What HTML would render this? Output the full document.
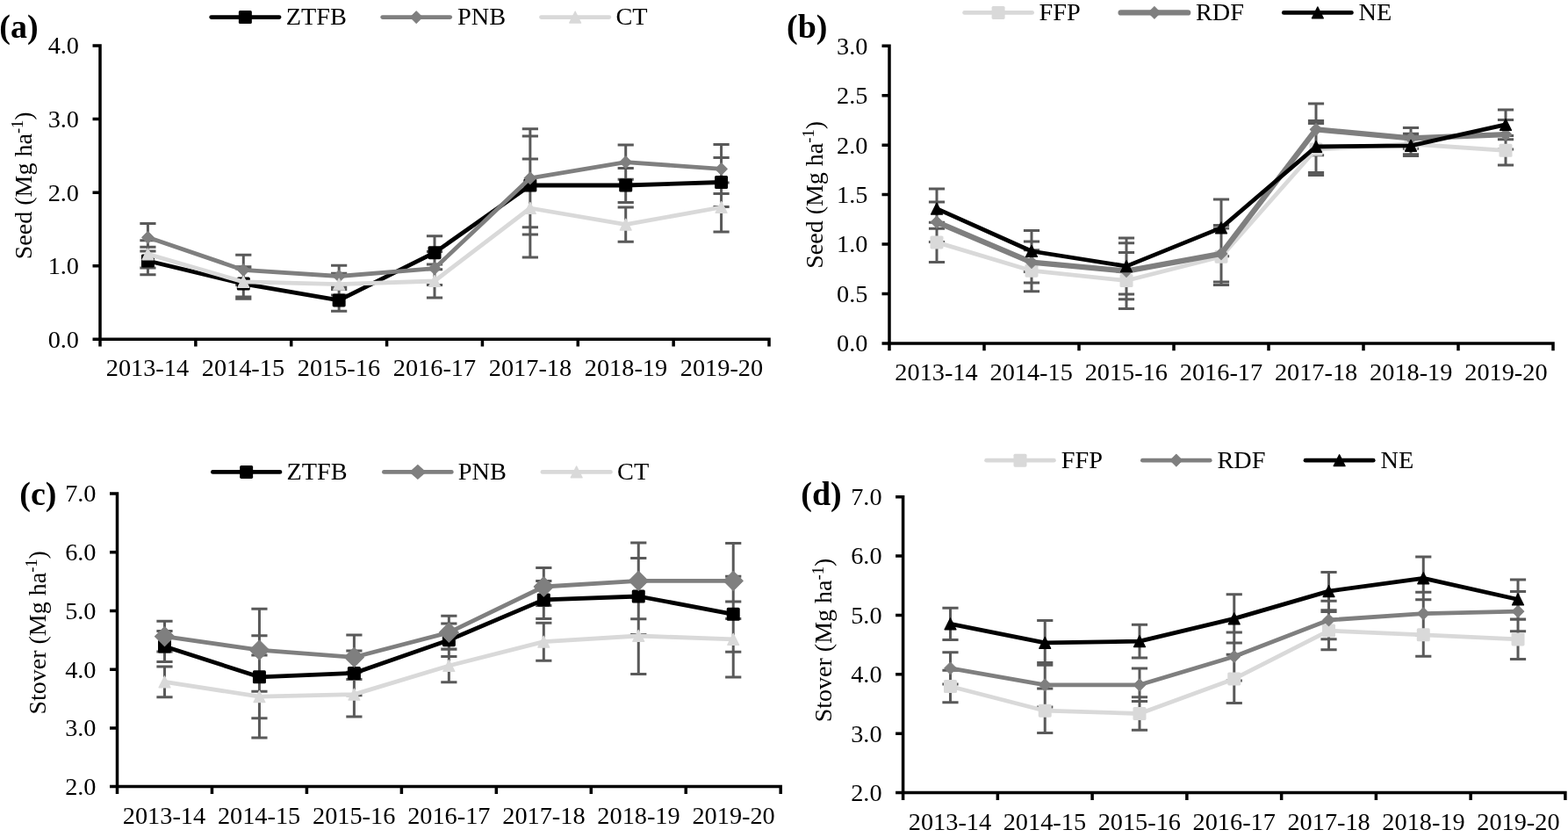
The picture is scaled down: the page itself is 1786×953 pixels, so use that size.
<!DOCTYPE html>
<html lang="en"><head><meta charset="utf-8"><title>Seed and stover yield</title>
<style>
html,body{margin:0;padding:0;background:#fff;overflow:hidden}
svg{display:block}
svg text{font-family:"Liberation Serif", "Times New Roman", serif;font-size:28.3px;fill:#000}
</style></head>
<body>
<svg width="1786" height="953" viewBox="0 0 1786 953">
<rect width="1786" height="953" fill="#fff"/>
<g>
<path d="M168.43 281.3V312.7M159.33 281.3H177.53M159.33 312.7H177.53M277.29 305.9V340.3M268.19 305.9H286.39M268.19 340.3H286.39M386.14 329.6V354.2M377.04 329.6H395.24M377.04 354.2H395.24M495 268.7V306.7M485.9 268.7H504.1M485.9 306.7H504.1M603.86 155V267M594.76 155H612.96M594.76 267H612.96M712.71 191.4V230.6M703.61 191.4H721.81M703.61 230.6H721.81M821.57 179.5V235.5M812.47 179.5H830.67M812.47 235.5H830.67M168.43 254.6V286M159.33 254.6H177.53M159.33 286H177.53M277.29 290.2V324.6M268.19 290.2H286.39M268.19 324.6H286.39M386.14 302.2V326.8M377.04 302.2H395.24M377.04 326.8H395.24M495 286.6V324.6M485.9 286.6H504.1M485.9 324.6H504.1M603.86 146.8V258.8M594.76 146.8H612.96M594.76 258.8H612.96M712.71 165V204.2M703.61 165H721.81M703.61 204.2H721.81M821.57 164.4V220.4M812.47 164.4H830.67M812.47 220.4H830.67M168.43 273.7V305.1M159.33 273.7H177.53M159.33 305.1H177.53M277.29 303.7V338.1M268.19 303.7H286.39M268.19 338.1H286.39M386.14 311.3V335.9M377.04 311.3H395.24M377.04 335.9H395.24M495 301V339M485.9 301H504.1M485.9 339H504.1M603.86 181V293M594.76 181H612.96M594.76 293H612.96M712.71 236V275.2M703.61 236H721.81M703.61 275.2H721.81M821.57 208V264M812.47 208H830.67M812.47 264H830.67" stroke="#595959" stroke-width="3" fill="none"/>
<polyline points="168.43,297 277.29,323.1 386.14,341.9 495,287.7 603.86,211 712.71,211 821.57,207.5" fill="none" stroke="#000000" stroke-width="4.8" stroke-linejoin="round" stroke-linecap="round"/>
<rect x="160.93" y="289.5" width="15" height="15" rx="1.6" fill="#000000"/>
<rect x="269.79" y="315.6" width="15" height="15" rx="1.6" fill="#000000"/>
<rect x="378.64" y="334.4" width="15" height="15" rx="1.6" fill="#000000"/>
<rect x="487.5" y="280.2" width="15" height="15" rx="1.6" fill="#000000"/>
<rect x="596.36" y="203.5" width="15" height="15" rx="1.6" fill="#000000"/>
<rect x="705.21" y="203.5" width="15" height="15" rx="1.6" fill="#000000"/>
<rect x="814.07" y="200" width="15" height="15" rx="1.6" fill="#000000"/>
<polyline points="168.43,270.3 277.29,307.4 386.14,314.5 495,305.6 603.86,202.8 712.71,184.6 821.57,192.4" fill="none" stroke="#7f7f7f" stroke-width="4.8" stroke-linejoin="round" stroke-linecap="round"/>
<path d="M168.43 263.6L175.13 270.3L168.43 277L161.73 270.3Z" fill="#7f7f7f" stroke="#7f7f7f" stroke-width="1.2" stroke-linejoin="round"/>
<path d="M277.29 300.7L283.99 307.4L277.29 314.1L270.59 307.4Z" fill="#7f7f7f" stroke="#7f7f7f" stroke-width="1.2" stroke-linejoin="round"/>
<path d="M386.14 307.8L392.84 314.5L386.14 321.2L379.44 314.5Z" fill="#7f7f7f" stroke="#7f7f7f" stroke-width="1.2" stroke-linejoin="round"/>
<path d="M495 298.9L501.7 305.6L495 312.3L488.3 305.6Z" fill="#7f7f7f" stroke="#7f7f7f" stroke-width="1.2" stroke-linejoin="round"/>
<path d="M603.86 196.1L610.56 202.8L603.86 209.5L597.16 202.8Z" fill="#7f7f7f" stroke="#7f7f7f" stroke-width="1.2" stroke-linejoin="round"/>
<path d="M712.71 177.9L719.41 184.6L712.71 191.3L706.01 184.6Z" fill="#7f7f7f" stroke="#7f7f7f" stroke-width="1.2" stroke-linejoin="round"/>
<path d="M821.57 185.7L828.27 192.4L821.57 199.1L814.87 192.4Z" fill="#7f7f7f" stroke="#7f7f7f" stroke-width="1.2" stroke-linejoin="round"/>
<polyline points="168.43,289.4 277.29,320.9 386.14,323.6 495,320 603.86,237 712.71,255.6 821.57,236" fill="none" stroke="#d9d9d9" stroke-width="4.8" stroke-linejoin="round" stroke-linecap="round"/>
<path d="M168.43 283L174.83 295.8L162.03 295.8Z" fill="#d9d9d9" stroke="#d9d9d9" stroke-width="1.4" stroke-linejoin="round"/>
<path d="M277.29 314.5L283.69 327.3L270.89 327.3Z" fill="#d9d9d9" stroke="#d9d9d9" stroke-width="1.4" stroke-linejoin="round"/>
<path d="M386.14 317.2L392.54 330L379.74 330Z" fill="#d9d9d9" stroke="#d9d9d9" stroke-width="1.4" stroke-linejoin="round"/>
<path d="M495 313.6L501.4 326.4L488.6 326.4Z" fill="#d9d9d9" stroke="#d9d9d9" stroke-width="1.4" stroke-linejoin="round"/>
<path d="M603.86 230.6L610.26 243.4L597.46 243.4Z" fill="#d9d9d9" stroke="#d9d9d9" stroke-width="1.4" stroke-linejoin="round"/>
<path d="M712.71 249.2L719.11 262L706.31 262Z" fill="#d9d9d9" stroke="#d9d9d9" stroke-width="1.4" stroke-linejoin="round"/>
<path d="M821.57 229.6L827.97 242.4L815.17 242.4Z" fill="#d9d9d9" stroke="#d9d9d9" stroke-width="1.4" stroke-linejoin="round"/>
<path d="M114 50.25V386.3M105.5 386.3H877.75M105.5 302.73H114M105.5 219.15H114M105.5 135.57H114M105.5 52H114M114 386.3V394.6M222.86 386.3V394.6M331.71 386.3V394.6M440.57 386.3V394.6M549.43 386.3V394.6M658.29 386.3V394.6M767.14 386.3V394.6M876 386.3V394.6" stroke="#000" stroke-width="3.5" fill="none"/>
<text x="90" y="395.7" text-anchor="end">0.0</text>
<text x="90" y="312.12" text-anchor="end">1.0</text>
<text x="90" y="228.55" text-anchor="end">2.0</text>
<text x="90" y="144.97" text-anchor="end">3.0</text>
<text x="90" y="61.4" text-anchor="end">4.0</text>
<text x="167.93" y="428.2" text-anchor="middle">2013-14</text>
<text x="276.94" y="428.2" text-anchor="middle">2014-15</text>
<text x="385.94" y="428.2" text-anchor="middle">2015-16</text>
<text x="494.95" y="428.2" text-anchor="middle">2016-17</text>
<text x="603.96" y="428.2" text-anchor="middle">2017-18</text>
<text x="712.96" y="428.2" text-anchor="middle">2018-19</text>
<text x="821.97" y="428.2" text-anchor="middle">2019-20</text>
<text style="font-size:28px" transform="translate(35.7 295.2) rotate(-90)">Seed (Mg ha<tspan font-size="18.5" dy="-9.5">-1</tspan><tspan dy="9.5">)</tspan></text>
<text x="-0.7" y="42.5" style="font-weight:bold;font-size:38px">(a)</text>
<line x1="240.7" y1="19.6" x2="318" y2="19.6" stroke="#000000" stroke-width="4.8" stroke-linecap="round"/>
<rect x="271.85" y="12.1" width="15" height="15" rx="1.6" fill="#000000"/>
<text x="325.8" y="28.3">ZTFB</text>
<line x1="435.7" y1="19.6" x2="512.7" y2="19.6" stroke="#7f7f7f" stroke-width="4.8" stroke-linecap="round"/>
<path d="M474.2 12.9L480.9 19.6L474.2 26.3L467.5 19.6Z" fill="#7f7f7f" stroke="#7f7f7f" stroke-width="1.2" stroke-linejoin="round"/>
<text x="521" y="28.3">PNB</text>
<line x1="616.5" y1="19.6" x2="693.8" y2="19.6" stroke="#d9d9d9" stroke-width="4.8" stroke-linecap="round"/>
<path d="M655.15 13.2L661.55 26L648.75 26Z" fill="#d9d9d9" stroke="#d9d9d9" stroke-width="1.4" stroke-linejoin="round"/>
<text x="701.5" y="28.3">CT</text>
</g>
<g>
<path d="M1067 253.2V298.6M1057.9 253.2H1076.1M1057.9 298.6H1076.1M1175 284.7V331.7M1165.9 284.7H1184.1M1165.9 331.7H1184.1M1283 287.5V351.5M1273.9 287.5H1292.1M1273.9 351.5H1292.1M1391 259.9V324.5M1381.9 259.9H1400.1M1381.9 324.5H1400.1M1499 140.6V199.4M1489.9 140.6H1508.1M1489.9 199.4H1508.1M1607 152.2V175.8M1597.9 152.2H1616.1M1597.9 175.8H1616.1M1715 154.5V188.1M1705.9 154.5H1724.1M1705.9 188.1H1724.1M1067 230.1V275.5M1057.9 230.1H1076.1M1057.9 275.5H1076.1M1175 275.1V322.1M1165.9 275.1H1184.1M1165.9 322.1H1184.1M1283 276.7V340.7M1273.9 276.7H1292.1M1273.9 340.7H1292.1M1391 256.5V321.1M1381.9 256.5H1400.1M1381.9 321.1H1400.1M1499 117.9V176.7M1489.9 117.9H1508.1M1489.9 176.7H1508.1M1607 145.6V169.2M1597.9 145.6H1616.1M1597.9 169.2H1616.1M1715 136.4V170M1705.9 136.4H1724.1M1705.9 170H1724.1M1067 214.9V260.3M1057.9 214.9H1076.1M1057.9 260.3H1076.1M1175 262.5V309.5M1165.9 262.5H1184.1M1165.9 309.5H1184.1M1283 271.1V335.1M1273.9 271.1H1292.1M1273.9 335.1H1292.1M1391 227.1V291.7M1381.9 227.1H1400.1M1381.9 291.7H1400.1M1499 137.6V196.4M1489.9 137.6H1508.1M1489.9 196.4H1508.1M1607 154V177.6M1597.9 154H1616.1M1597.9 177.6H1616.1M1715 125.1V158.7M1705.9 125.1H1724.1M1705.9 158.7H1724.1" stroke="#595959" stroke-width="3" fill="none"/>
<polyline points="1067,275.9 1175,308.2 1283,319.5 1391,292.2 1499,170 1607,164 1715,171.3" fill="none" stroke="#d9d9d9" stroke-width="4.8" stroke-linejoin="round" stroke-linecap="round"/>
<rect x="1059.5" y="268.4" width="15" height="15" rx="1.6" fill="#d9d9d9"/>
<rect x="1167.5" y="300.7" width="15" height="15" rx="1.6" fill="#d9d9d9"/>
<rect x="1275.5" y="312" width="15" height="15" rx="1.6" fill="#d9d9d9"/>
<rect x="1383.5" y="284.7" width="15" height="15" rx="1.6" fill="#d9d9d9"/>
<rect x="1491.5" y="162.5" width="15" height="15" rx="1.6" fill="#d9d9d9"/>
<rect x="1599.5" y="156.5" width="15" height="15" rx="1.6" fill="#d9d9d9"/>
<rect x="1707.5" y="163.8" width="15" height="15" rx="1.6" fill="#d9d9d9"/>
<polyline points="1067,252.8 1175,298.6 1283,308.7 1391,288.8 1499,147.3 1607,157.4 1715,153.2" fill="none" stroke="#7f7f7f" stroke-width="6.3" stroke-linejoin="round" stroke-linecap="round"/>
<path d="M1067 246.1L1073.7 252.8L1067 259.5L1060.3 252.8Z" fill="#7f7f7f" stroke="#7f7f7f" stroke-width="1.2" stroke-linejoin="round"/>
<path d="M1175 291.9L1181.7 298.6L1175 305.3L1168.3 298.6Z" fill="#7f7f7f" stroke="#7f7f7f" stroke-width="1.2" stroke-linejoin="round"/>
<path d="M1283 302L1289.7 308.7L1283 315.4L1276.3 308.7Z" fill="#7f7f7f" stroke="#7f7f7f" stroke-width="1.2" stroke-linejoin="round"/>
<path d="M1391 282.1L1397.7 288.8L1391 295.5L1384.3 288.8Z" fill="#7f7f7f" stroke="#7f7f7f" stroke-width="1.2" stroke-linejoin="round"/>
<path d="M1499 140.6L1505.7 147.3L1499 154L1492.3 147.3Z" fill="#7f7f7f" stroke="#7f7f7f" stroke-width="1.2" stroke-linejoin="round"/>
<path d="M1607 150.7L1613.7 157.4L1607 164.1L1600.3 157.4Z" fill="#7f7f7f" stroke="#7f7f7f" stroke-width="1.2" stroke-linejoin="round"/>
<path d="M1715 146.5L1721.7 153.2L1715 159.9L1708.3 153.2Z" fill="#7f7f7f" stroke="#7f7f7f" stroke-width="1.2" stroke-linejoin="round"/>
<polyline points="1067,237.6 1175,286 1283,303.1 1391,259.4 1499,167 1607,165.8 1715,141.9" fill="none" stroke="#000000" stroke-width="4.8" stroke-linejoin="round" stroke-linecap="round"/>
<path d="M1067 231.2L1073.4 244L1060.6 244Z" fill="#000000" stroke="#000000" stroke-width="1.4" stroke-linejoin="round"/>
<path d="M1175 279.6L1181.4 292.4L1168.6 292.4Z" fill="#000000" stroke="#000000" stroke-width="1.4" stroke-linejoin="round"/>
<path d="M1283 296.7L1289.4 309.5L1276.6 309.5Z" fill="#000000" stroke="#000000" stroke-width="1.4" stroke-linejoin="round"/>
<path d="M1391 253L1397.4 265.8L1384.6 265.8Z" fill="#000000" stroke="#000000" stroke-width="1.4" stroke-linejoin="round"/>
<path d="M1499 160.6L1505.4 173.4L1492.6 173.4Z" fill="#000000" stroke="#000000" stroke-width="1.4" stroke-linejoin="round"/>
<path d="M1607 159.4L1613.4 172.2L1600.6 172.2Z" fill="#000000" stroke="#000000" stroke-width="1.4" stroke-linejoin="round"/>
<path d="M1715 135.5L1721.4 148.3L1708.6 148.3Z" fill="#000000" stroke="#000000" stroke-width="1.4" stroke-linejoin="round"/>
<path d="M1013 50.45V391M1004.5 391H1770.75M1004.5 334.53H1013M1004.5 278.07H1013M1004.5 221.6H1013M1004.5 165.13H1013M1004.5 108.67H1013M1004.5 52.2H1013M1013 391V399.3M1121 391V399.3M1229 391V399.3M1337 391V399.3M1445 391V399.3M1553 391V399.3M1661 391V399.3M1769 391V399.3" stroke="#000" stroke-width="3.5" fill="none"/>
<text x="988.4" y="400.4" text-anchor="end">0.0</text>
<text x="988.4" y="343.93" text-anchor="end">0.5</text>
<text x="988.4" y="287.47" text-anchor="end">1.0</text>
<text x="988.4" y="231" text-anchor="end">1.5</text>
<text x="988.4" y="174.53" text-anchor="end">2.0</text>
<text x="988.4" y="118.07" text-anchor="end">2.5</text>
<text x="988.4" y="61.6" text-anchor="end">3.0</text>
<text x="1066.5" y="432.9" text-anchor="middle">2013-14</text>
<text x="1174.65" y="432.9" text-anchor="middle">2014-15</text>
<text x="1282.8" y="432.9" text-anchor="middle">2015-16</text>
<text x="1390.95" y="432.9" text-anchor="middle">2016-17</text>
<text x="1499.1" y="432.9" text-anchor="middle">2017-18</text>
<text x="1607.25" y="432.9" text-anchor="middle">2018-19</text>
<text x="1715.4" y="432.9" text-anchor="middle">2019-20</text>
<text style="font-size:28px" transform="translate(936.6 305.8) rotate(-90)">Seed (Mg ha<tspan font-size="18.5" dy="-9.5">-1</tspan><tspan dy="9.5">)</tspan></text>
<text x="896" y="42.5" style="font-weight:bold;font-size:38px">(b)</text>
<line x1="1098.6" y1="14.4" x2="1175.6" y2="14.4" stroke="#d9d9d9" stroke-width="4.8" stroke-linecap="round"/>
<rect x="1129.6" y="6.9" width="15" height="15" rx="1.6" fill="#d9d9d9"/>
<text x="1183.5" y="23.1">FFP</text>
<line x1="1276.65" y1="14.4" x2="1353.15" y2="14.4" stroke="#7f7f7f" stroke-width="6.3" stroke-linecap="round"/>
<path d="M1314.9 7.7L1321.6 14.4L1314.9 21.1L1308.2 14.4Z" fill="#7f7f7f" stroke="#7f7f7f" stroke-width="1.2" stroke-linejoin="round"/>
<text x="1361.9" y="23.1">RDF</text>
<line x1="1462.3" y1="14.4" x2="1539.4" y2="14.4" stroke="#000000" stroke-width="4.8" stroke-linecap="round"/>
<path d="M1500.85 8L1507.25 20.8L1494.45 20.8Z" fill="#000000" stroke="#000000" stroke-width="1.4" stroke-linejoin="round"/>
<text x="1547.5" y="23.1">NE</text>
</g>
<g>
<path d="M187.48 718.6V753.4M178.38 718.6H196.58M178.38 753.4H196.58M295.44 723.8V817.8M286.34 723.8H304.54M286.34 817.8H304.54M403.39 741.1V791.7M394.29 741.1H412.49M394.29 791.7H412.49M511.35 709.9V747.5M502.25 709.9H520.45M502.25 747.5H520.45M619.31 661.4V704.4M610.21 661.4H628.41M610.21 704.4H628.41M727.26 635.6V722.4M718.16 635.6H736.36M718.16 722.4H736.36M835.22 656.3V742.3M826.12 656.3H844.32M826.12 742.3H844.32M187.48 707.3V742.1M178.38 707.3H196.58M178.38 742.1H196.58M295.44 693.2V787.2M286.34 693.2H304.54M286.34 787.2H304.54M403.39 723V773.6M394.29 723H412.49M394.29 773.6H412.49M511.35 701.3V738.9M502.25 701.3H520.45M502.25 738.9H520.45M619.31 646.5V689.5M610.21 646.5H628.41M610.21 689.5H628.41M727.26 618V704.8M718.16 618H736.36M718.16 704.8H736.36M835.22 618.4V704.4M826.12 618.4H844.32M826.12 704.4H844.32M187.48 759V793.8M178.38 759H196.58M178.38 793.8H196.58M295.44 746.1V840.1M286.34 746.1H304.54M286.34 840.1H304.54M403.39 765.3V815.9M394.29 765.3H412.49M394.29 815.9H412.49M511.35 739.2V776.8M502.25 739.2H520.45M502.25 776.8H520.45M619.31 709.2V752.2M610.21 709.2H628.41M610.21 752.2H628.41M727.26 680.6V767.4M718.16 680.6H736.36M718.16 767.4H736.36M835.22 684.9V770.9M826.12 684.9H844.32M826.12 770.9H844.32" stroke="#595959" stroke-width="3" fill="none"/>
<polyline points="187.48,736 295.44,770.8 403.39,766.4 511.35,728.7 619.31,682.9 727.26,679 835.22,699.3" fill="none" stroke="#000000" stroke-width="4.8" stroke-linejoin="round" stroke-linecap="round"/>
<rect x="179.98" y="728.5" width="15" height="15" rx="1.6" fill="#000000"/>
<rect x="287.94" y="763.3" width="15" height="15" rx="1.6" fill="#000000"/>
<rect x="395.89" y="758.9" width="15" height="15" rx="1.6" fill="#000000"/>
<rect x="503.85" y="721.2" width="15" height="15" rx="1.6" fill="#000000"/>
<rect x="611.81" y="675.4" width="15" height="15" rx="1.6" fill="#000000"/>
<rect x="719.76" y="671.5" width="15" height="15" rx="1.6" fill="#000000"/>
<rect x="827.72" y="691.8" width="15" height="15" rx="1.6" fill="#000000"/>
<polyline points="187.48,724.7 295.44,740.2 403.39,748.3 511.35,720.1 619.31,668 727.26,661.4 835.22,661.4" fill="none" stroke="#7f7f7f" stroke-width="4.8" stroke-linejoin="round" stroke-linecap="round"/>
<path d="M187.48 713.7L198.48 724.7L187.48 735.7L176.48 724.7Z" fill="#7f7f7f" stroke="#7f7f7f" stroke-width="1.2" stroke-linejoin="round"/>
<path d="M295.44 729.2L306.44 740.2L295.44 751.2L284.44 740.2Z" fill="#7f7f7f" stroke="#7f7f7f" stroke-width="1.2" stroke-linejoin="round"/>
<path d="M403.39 737.3L414.39 748.3L403.39 759.3L392.39 748.3Z" fill="#7f7f7f" stroke="#7f7f7f" stroke-width="1.2" stroke-linejoin="round"/>
<path d="M511.35 709.1L522.35 720.1L511.35 731.1L500.35 720.1Z" fill="#7f7f7f" stroke="#7f7f7f" stroke-width="1.2" stroke-linejoin="round"/>
<path d="M619.31 657L630.31 668L619.31 679L608.31 668Z" fill="#7f7f7f" stroke="#7f7f7f" stroke-width="1.2" stroke-linejoin="round"/>
<path d="M727.26 650.4L738.26 661.4L727.26 672.4L716.26 661.4Z" fill="#7f7f7f" stroke="#7f7f7f" stroke-width="1.2" stroke-linejoin="round"/>
<path d="M835.22 650.4L846.22 661.4L835.22 672.4L824.22 661.4Z" fill="#7f7f7f" stroke="#7f7f7f" stroke-width="1.2" stroke-linejoin="round"/>
<polyline points="187.48,776.4 295.44,793.1 403.39,790.6 511.35,758 619.31,730.7 727.26,724 835.22,727.9" fill="none" stroke="#d9d9d9" stroke-width="4.8" stroke-linejoin="round" stroke-linecap="round"/>
<path d="M187.48 770L193.88 782.8L181.08 782.8Z" fill="#d9d9d9" stroke="#d9d9d9" stroke-width="1.4" stroke-linejoin="round"/>
<path d="M295.44 786.7L301.84 799.5L289.04 799.5Z" fill="#d9d9d9" stroke="#d9d9d9" stroke-width="1.4" stroke-linejoin="round"/>
<path d="M403.39 784.2L409.79 797L396.99 797Z" fill="#d9d9d9" stroke="#d9d9d9" stroke-width="1.4" stroke-linejoin="round"/>
<path d="M511.35 751.6L517.75 764.4L504.95 764.4Z" fill="#d9d9d9" stroke="#d9d9d9" stroke-width="1.4" stroke-linejoin="round"/>
<path d="M619.31 724.3L625.71 737.1L612.91 737.1Z" fill="#d9d9d9" stroke="#d9d9d9" stroke-width="1.4" stroke-linejoin="round"/>
<path d="M727.26 717.6L733.66 730.4L720.86 730.4Z" fill="#d9d9d9" stroke="#d9d9d9" stroke-width="1.4" stroke-linejoin="round"/>
<path d="M835.22 721.5L841.62 734.3L828.82 734.3Z" fill="#d9d9d9" stroke="#d9d9d9" stroke-width="1.4" stroke-linejoin="round"/>
<path d="M133.5 560.25V895.6M125 895.6H890.95M125 828.88H133.5M125 762.16H133.5M125 695.44H133.5M125 628.72H133.5M125 562H133.5M133.5 895.6V903.9M241.46 895.6V903.9M349.41 895.6V903.9M457.37 895.6V903.9M565.33 895.6V903.9M673.29 895.6V903.9M781.24 895.6V903.9M889.2 895.6V903.9" stroke="#000" stroke-width="3.5" fill="none"/>
<text x="109.5" y="905" text-anchor="end">2.0</text>
<text x="109.5" y="838.28" text-anchor="end">3.0</text>
<text x="109.5" y="771.56" text-anchor="end">4.0</text>
<text x="109.5" y="704.84" text-anchor="end">5.0</text>
<text x="109.5" y="638.12" text-anchor="end">6.0</text>
<text x="109.5" y="571.4" text-anchor="end">7.0</text>
<text x="186.98" y="937.5" text-anchor="middle">2013-14</text>
<text x="295.09" y="937.5" text-anchor="middle">2014-15</text>
<text x="403.19" y="937.5" text-anchor="middle">2015-16</text>
<text x="511.3" y="937.5" text-anchor="middle">2016-17</text>
<text x="619.41" y="937.5" text-anchor="middle">2017-18</text>
<text x="727.51" y="937.5" text-anchor="middle">2018-19</text>
<text x="835.62" y="937.5" text-anchor="middle">2019-20</text>
<text style="font-size:28px" transform="translate(51.6 813.6) rotate(-90)">Stover (Mg ha<tspan font-size="18.5" dy="-9.5">-1</tspan><tspan dy="9.5">)</tspan></text>
<text x="22.3" y="575.3" style="font-weight:bold;font-size:38px">(c)</text>
<line x1="242.4" y1="537.4" x2="318.9" y2="537.4" stroke="#000000" stroke-width="4.8" stroke-linecap="round"/>
<rect x="273.15" y="529.9" width="15" height="15" rx="1.6" fill="#000000"/>
<text x="326.5" y="546.1">ZTFB</text>
<line x1="437.4" y1="537.4" x2="514.3" y2="537.4" stroke="#7f7f7f" stroke-width="4.8" stroke-linecap="round"/>
<path d="M475.85 528.8L485.55 537.4L475.85 546L466.15 537.4Z" fill="#7f7f7f"/>
<text x="521.8" y="546.1">PNB</text>
<line x1="617.9" y1="537.4" x2="695.4" y2="537.4" stroke="#d9d9d9" stroke-width="4.8" stroke-linecap="round"/>
<path d="M656.65 531L663.05 543.8L650.25 543.8Z" fill="#d9d9d9" stroke="#d9d9d9" stroke-width="1.4" stroke-linejoin="round"/>
<text x="703.1" y="546.1">CT</text>
</g>
<g>
<path d="M1082.48 763.3V799.7M1073.38 763.3H1091.58M1073.38 799.7H1091.58M1190.24 783.9V834.5M1181.14 783.9H1199.34M1181.14 834.5H1199.34M1297.99 793.7V831.3M1288.89 793.7H1307.09M1288.89 831.3H1307.09M1405.75 745.3V800.5M1396.65 745.3H1414.85M1396.65 800.5H1414.85M1513.51 696.4V739.8M1504.41 696.4H1522.61M1504.41 739.8H1522.61M1621.26 698.4V747.2M1612.16 698.4H1630.36M1612.16 747.2H1630.36M1729.02 705.3V750.5M1719.92 705.3H1738.12M1719.92 750.5H1738.12M1082.48 742.7V779.1M1073.38 742.7H1091.58M1073.38 779.1H1091.58M1190.24 754.5V805.1M1181.14 754.5H1199.34M1181.14 805.1H1199.34M1297.99 761V798.6M1288.89 761H1307.09M1288.89 798.6H1307.09M1405.75 719.9V775.1M1396.65 719.9H1414.85M1396.65 775.1H1414.85M1513.51 684.3V727.7M1504.41 684.3H1522.61M1504.41 727.7H1522.61M1621.26 674.2V723M1612.16 674.2H1630.36M1612.16 723H1630.36M1729.02 673.6V718.8M1719.92 673.6H1738.12M1719.92 718.8H1738.12M1082.48 692.2V728.6M1073.38 692.2H1091.58M1073.38 728.6H1091.58M1190.24 706.6V757.2M1181.14 706.6H1199.34M1181.14 757.2H1199.34M1297.99 711.3V748.9M1288.89 711.3H1307.09M1288.89 748.9H1307.09M1405.75 676.8V732M1396.65 676.8H1414.85M1396.65 732H1414.85M1513.51 651.4V694.8M1504.41 651.4H1522.61M1504.41 694.8H1522.61M1621.26 633.9V682.7M1612.16 633.9H1630.36M1612.16 682.7H1630.36M1729.02 659.9V705.1M1719.92 659.9H1738.12M1719.92 705.1H1738.12" stroke="#595959" stroke-width="3" fill="none"/>
<polyline points="1082.48,781.5 1190.24,809.2 1297.99,812.5 1405.75,772.9 1513.51,718.1 1621.26,722.8 1729.02,727.9" fill="none" stroke="#d9d9d9" stroke-width="4.8" stroke-linejoin="round" stroke-linecap="round"/>
<rect x="1074.98" y="774" width="15" height="15" rx="1.6" fill="#d9d9d9"/>
<rect x="1182.74" y="801.7" width="15" height="15" rx="1.6" fill="#d9d9d9"/>
<rect x="1290.49" y="805" width="15" height="15" rx="1.6" fill="#d9d9d9"/>
<rect x="1398.25" y="765.4" width="15" height="15" rx="1.6" fill="#d9d9d9"/>
<rect x="1506.01" y="710.6" width="15" height="15" rx="1.6" fill="#d9d9d9"/>
<rect x="1613.76" y="715.3" width="15" height="15" rx="1.6" fill="#d9d9d9"/>
<rect x="1721.52" y="720.4" width="15" height="15" rx="1.6" fill="#d9d9d9"/>
<polyline points="1082.48,760.9 1190.24,779.8 1297.99,779.8 1405.75,747.5 1513.51,706 1621.26,698.6 1729.02,696.2" fill="none" stroke="#7f7f7f" stroke-width="4.8" stroke-linejoin="round" stroke-linecap="round"/>
<path d="M1082.48 754.2L1089.18 760.9L1082.48 767.6L1075.78 760.9Z" fill="#7f7f7f" stroke="#7f7f7f" stroke-width="1.2" stroke-linejoin="round"/>
<path d="M1190.24 773.1L1196.94 779.8L1190.24 786.5L1183.54 779.8Z" fill="#7f7f7f" stroke="#7f7f7f" stroke-width="1.2" stroke-linejoin="round"/>
<path d="M1297.99 773.1L1304.69 779.8L1297.99 786.5L1291.29 779.8Z" fill="#7f7f7f" stroke="#7f7f7f" stroke-width="1.2" stroke-linejoin="round"/>
<path d="M1405.75 740.8L1412.45 747.5L1405.75 754.2L1399.05 747.5Z" fill="#7f7f7f" stroke="#7f7f7f" stroke-width="1.2" stroke-linejoin="round"/>
<path d="M1513.51 699.3L1520.21 706L1513.51 712.7L1506.81 706Z" fill="#7f7f7f" stroke="#7f7f7f" stroke-width="1.2" stroke-linejoin="round"/>
<path d="M1621.26 691.9L1627.96 698.6L1621.26 705.3L1614.56 698.6Z" fill="#7f7f7f" stroke="#7f7f7f" stroke-width="1.2" stroke-linejoin="round"/>
<path d="M1729.02 689.5L1735.72 696.2L1729.02 702.9L1722.32 696.2Z" fill="#7f7f7f" stroke="#7f7f7f" stroke-width="1.2" stroke-linejoin="round"/>
<polyline points="1082.48,710.4 1190.24,731.9 1297.99,730.1 1405.75,704.4 1513.51,673.1 1621.26,658.3 1729.02,682.5" fill="none" stroke="#000000" stroke-width="4.8" stroke-linejoin="round" stroke-linecap="round"/>
<path d="M1082.48 704L1088.88 716.8L1076.08 716.8Z" fill="#000000" stroke="#000000" stroke-width="1.4" stroke-linejoin="round"/>
<path d="M1190.24 725.5L1196.64 738.3L1183.84 738.3Z" fill="#000000" stroke="#000000" stroke-width="1.4" stroke-linejoin="round"/>
<path d="M1297.99 723.7L1304.39 736.5L1291.59 736.5Z" fill="#000000" stroke="#000000" stroke-width="1.4" stroke-linejoin="round"/>
<path d="M1405.75 698L1412.15 710.8L1399.35 710.8Z" fill="#000000" stroke="#000000" stroke-width="1.4" stroke-linejoin="round"/>
<path d="M1513.51 666.7L1519.91 679.5L1507.11 679.5Z" fill="#000000" stroke="#000000" stroke-width="1.4" stroke-linejoin="round"/>
<path d="M1621.26 651.9L1627.66 664.7L1614.86 664.7Z" fill="#000000" stroke="#000000" stroke-width="1.4" stroke-linejoin="round"/>
<path d="M1729.02 676.1L1735.42 688.9L1722.62 688.9Z" fill="#000000" stroke="#000000" stroke-width="1.4" stroke-linejoin="round"/>
<path d="M1028.6 563.95V902.6M1020.1 902.6H1784.65M1020.1 835.22H1028.6M1020.1 767.84H1028.6M1020.1 700.46H1028.6M1020.1 633.08H1028.6M1020.1 565.7H1028.6M1028.6 902.6V910.9M1136.36 902.6V910.9M1244.11 902.6V910.9M1351.87 902.6V910.9M1459.63 902.6V910.9M1567.39 902.6V910.9M1675.14 902.6V910.9M1782.9 902.6V910.9" stroke="#000" stroke-width="3.5" fill="none"/>
<text x="1004.6" y="912" text-anchor="end">2.0</text>
<text x="1004.6" y="844.62" text-anchor="end">3.0</text>
<text x="1004.6" y="777.24" text-anchor="end">4.0</text>
<text x="1004.6" y="709.86" text-anchor="end">5.0</text>
<text x="1004.6" y="642.48" text-anchor="end">6.0</text>
<text x="1004.6" y="575.1" text-anchor="end">7.0</text>
<text x="1081.98" y="944.5" text-anchor="middle">2013-14</text>
<text x="1189.89" y="944.5" text-anchor="middle">2014-15</text>
<text x="1297.79" y="944.5" text-anchor="middle">2015-16</text>
<text x="1405.7" y="944.5" text-anchor="middle">2016-17</text>
<text x="1513.61" y="944.5" text-anchor="middle">2017-18</text>
<text x="1621.51" y="944.5" text-anchor="middle">2018-19</text>
<text x="1729.42" y="944.5" text-anchor="middle">2019-20</text>
<text style="font-size:28px" transform="translate(947.4 822.3) rotate(-90)">Stover (Mg ha<tspan font-size="18.5" dy="-9.5">-1</tspan><tspan dy="9.5">)</tspan></text>
<text x="912.3" y="575.3" style="font-weight:bold;font-size:38px">(d)</text>
<line x1="1123.6" y1="524.2" x2="1200.4" y2="524.2" stroke="#d9d9d9" stroke-width="4.8" stroke-linecap="round"/>
<rect x="1154.5" y="516.7" width="15" height="15" rx="1.6" fill="#d9d9d9"/>
<text x="1208.7" y="532.9">FFP</text>
<line x1="1301.4" y1="524.2" x2="1378.2" y2="524.2" stroke="#7f7f7f" stroke-width="4.8" stroke-linecap="round"/>
<path d="M1339.8 517.5L1346.5 524.2L1339.8 530.9L1333.1 524.2Z" fill="#7f7f7f" stroke="#7f7f7f" stroke-width="1.2" stroke-linejoin="round"/>
<text x="1386.5" y="532.9">RDF</text>
<line x1="1487" y1="524.2" x2="1564.2" y2="524.2" stroke="#000000" stroke-width="4.8" stroke-linecap="round"/>
<path d="M1525.6 517.8L1532 530.6L1519.2 530.6Z" fill="#000000" stroke="#000000" stroke-width="1.4" stroke-linejoin="round"/>
<text x="1572.5" y="532.9">NE</text>
</g>
</svg>
</body></html>
